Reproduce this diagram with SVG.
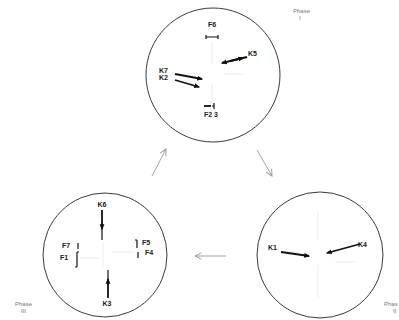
<svg xmlns="http://www.w3.org/2000/svg" width="399" height="320" viewBox="0 0 399 320">
<defs>
<style>
.circ{fill:none;stroke:#3a3a3a;stroke-width:1}
.faint{stroke:#f4f7f4;stroke-width:2;fill:none}
.lbl{font-family:"Liberation Sans",Arial,sans-serif;font-size:7px;font-weight:bold;fill:#1a1a1a}
.ph{font-family:"Liberation Sans",Arial,sans-serif;font-size:6px;fill:#777}
.vec{stroke:#111;stroke-width:1.8;fill:none}
.thin{stroke:#111;stroke-width:1.2;fill:none}
.conn{stroke:#999;stroke-width:0.9;fill:none}
</style>
<marker id="open" viewBox="0 0 10 10" refX="9" refY="5" markerWidth="8" markerHeight="8" orient="auto" markerUnits="userSpaceOnUse">
<path d="M1,1 L9,5 L1,9" fill="none" stroke="#999" stroke-width="1.2"/>
</marker>
<marker id="head" viewBox="0 0 10 10" refX="8" refY="5" markerWidth="6" markerHeight="6" orient="auto" markerUnits="userSpaceOnUse">
<path d="M0,1 L10,5 L0,9 Z" fill="#111"/>
</marker>
</defs>
<rect width="399" height="320" fill="#fff"/>

<g id="phase1">
<circle class="circ" cx="213" cy="75" r="67"/>
<path class="faint" d="M212,42 V64 M212,84 V104 M186,74 H200 M224,74 H244"/>
<text class="lbl" x="212" y="27" text-anchor="middle">F6</text>
<path class="thin" d="M206,37 H218 M206,35 V39 M218,35 V39"/>
<text class="lbl" x="248" y="56">K5</text>
<path class="vec" d="M247,57 L222,63" marker-end="url(#head)"/>
<path class="vec" d="M230,61 L243,58" marker-end="url(#head)"/>
<text class="lbl" x="159" y="73">K7</text>
<text class="lbl" x="159" y="80">K2</text>
<path class="vec" d="M175,74 L202,79" marker-end="url(#head)"/>
<path class="vec" d="M175,80 L199,87" marker-end="url(#head)"/>
<path class="vec" d="M204,106 H211"/>
<path class="thin" d="M214,103 V109 M212,106 H214"/>
<text class="lbl" x="204" y="117">F2 3</text>
<text class="ph" x="293" y="13">Phase</text>
<text class="ph" x="299" y="20">I</text>
</g>

<g id="phase2">
<circle class="circ" cx="320" cy="255" r="63"/>
<path class="faint" d="M318,212 V240 M318,265 V298 M285,252 H300 M335,262 H355"/>
<text class="lbl" x="268" y="250">K1</text>
<path class="vec" d="M281,252 L309,256" marker-end="url(#head)"/>
<text class="lbl" x="358" y="247">K4</text>
<path class="vec" d="M360,244 L327,253" marker-end="url(#head)"/>
<text class="ph" x="384" y="306">Phas</text>
<text class="ph" x="393" y="313">II</text>
</g>

<g id="phase3">
<circle class="circ" cx="105" cy="255" r="62"/>
<path class="faint" d="M103,242 V268 M80,258 H100 M112,252 H135"/>
<text class="lbl" x="102" y="207" text-anchor="middle">K6</text>
<path class="vec" d="M102,210 V229" marker-end="url(#head)"/>
<path class="thin" d="M102,222 V240"/>
<text class="lbl" x="107" y="306" text-anchor="middle">K3</text>
<path class="vec" d="M108,298 V279" marker-end="url(#head)"/>
<path class="thin" d="M108,285 V270"/>
<text class="lbl" x="62" y="248">F7</text>
<path class="thin" d="M78,243 V249"/>
<text class="lbl" x="60" y="260">F1</text>
<path class="thin" d="M77,252 V267 M75,267 H77 M77,252 H79"/>
<text class="lbl" x="142" y="245">F5</text>
<path class="thin" d="M137,240 V248 M135,240 H137"/>
<text class="lbl" x="145" y="255">F4</text>
<path class="thin" d="M138,252 V258"/>
<text class="ph" x="15" y="306">Phase</text>
<text class="ph" x="21" y="313">III</text>
</g>

<g id="connectors">
<path class="conn" d="M152,176 L166,149" marker-end="url(#open)"/>
<path class="conn" d="M257,150 L272,176" marker-end="url(#open)"/>
<path class="conn" d="M226,256 L195,256" marker-end="url(#open)"/>
</g>
</svg>
